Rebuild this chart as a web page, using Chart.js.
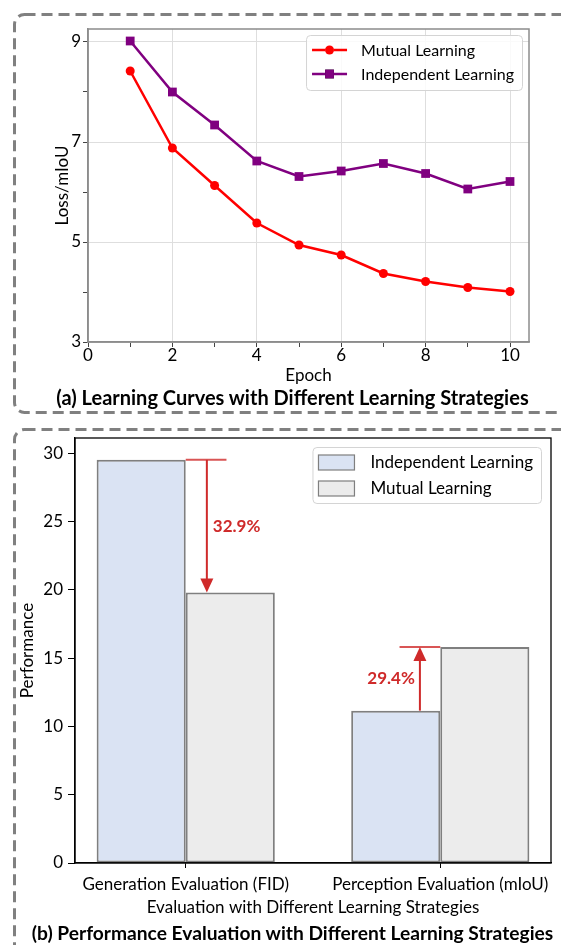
<!DOCTYPE html>
<html>
<head>
<meta charset="utf-8">
<script src="https://cdn.jsdelivr.net/npm/chart.js@4.4.1/dist/chart.umd.min.js"></script>
<style>
    body { margin: 0; background: #fff; width: 561px; height: 945px; overflow: hidden; position: relative; font-family: Lato, "Open Sans", sans-serif; }
    .frame { position: absolute; left: 0; top: 0; }
    canvas { position: absolute; left: 0; }
    .caption { position: absolute; left: 0; width: 585px; text-align: center; font-weight: bold; color: #000; line-height: 22px; }
</style>
</head>
<body>
<svg class="frame" width="561" height="945">
    <rect x="14.5" y="14.5" width="600" height="398" rx="10" fill="none" stroke="#808080" stroke-width="3" stroke-dasharray="11 6"/>
    <rect x="14.5" y="429.5" width="600" height="600" rx="10" fill="none" stroke="#808080" stroke-width="3" stroke-dasharray="11 6"/>
</svg>
<canvas id="lossChart" width="561" height="390" style="top:0"></canvas>
<div class="caption" style="top:386px;font-size:20px">(a) Learning Curves with Different Learning Strategies</div>
<canvas id="perfChart" width="561" height="500" style="top:420px"></canvas>
<div class="caption" style="top:922px;font-size:19.2px">(b) Performance Evaluation with Different Learning Strategies</div>

<script>
// learning curves
var epochs = [1, 2, 3, 4, 5, 6, 7, 8, 9, 10];
var mutualLoss = [8.42, 6.88, 6.13, 5.38, 4.94, 4.74, 4.37, 4.21, 4.09, 4.01];
var independentLoss = [9.02, 8.00, 7.34, 6.62, 6.31, 6.42, 6.57, 6.37, 6.06, 6.21];
var epochTicks = [0, 1, 2, 3, 4, 5, 6, 7, 8, 9, 10];
var lossTicks = [3, 4, 5, 6, 7, 8, 9];

// performance bars
var evalCategories = ['Generation Evaluation (FID)', 'Perception Evaluation (mIoU)'];
var independentPerf = [29.5, 11.15];
var mutualPerf = [19.8, 15.8];
var perfTicks = [0, 5, 10, 15, 20, 25, 30];
var gainLabels = ['32.9%', '29.4%'];

var FONT = 'Lato, "Open Sans", sans-serif';
var RED = '#cf2a2a';

Chart.defaults.font.family = FONT;
Chart.defaults.font.size = 16;
Chart.defaults.color = '#000';

function toPoints(xs, ys) {
    return xs.map(function (x, i) { return {x: x, y: ys[i]}; });
}

function setTicks(list) {
    return function (scale) {
        scale.ticks = list.map(function (v) { return {value: v}; });
    };
}

// matplotlib style frame + legend in the upper right corner
function drawLegend(chart, o) {
    var ctx = chart.ctx, area = chart.chartArea;
    ctx.save();
    ctx.font = o.fontSize + 'px ' + FONT;
    var w = 0;
    o.items.forEach(function (it) { w = Math.max(w, ctx.measureText(it.label).width); });
    var boxW = o.textX + w + 8;
    var left = area.right - o.right - boxW;
    var top = area.top + o.top;
    ctx.beginPath();
    ctx.roundRect(left + 0.5, top + 0.5, boxW, o.height, 4);
    ctx.fillStyle = 'rgba(255,255,255,0.85)';
    ctx.fill();
    ctx.strokeStyle = '#d4d4d4';
    ctx.lineWidth = 1;
    ctx.stroke();
    o.items.forEach(function (it, i) {
        var cy = top + o.rowY[i];
        if (it.kind === 'line') {
            ctx.strokeStyle = it.color;
            ctx.lineWidth = 2.5;
            ctx.beginPath();
            ctx.moveTo(left + 6, cy);
            ctx.lineTo(left + 41, cy);
            ctx.stroke();
            Chart.helpers.drawPoint(ctx, {pointStyle: it.pointStyle, radius: it.radius, borderWidth: 0}, left + 23.5, cy);
            ctx.fillStyle = it.color;
            ctx.fill();
        } else {
            ctx.fillStyle = it.fill;
            ctx.fillRect(left + 6, cy - 7, 36, 15);
            ctx.strokeStyle = '#7f7f7f';
            ctx.lineWidth = 1.2;
            ctx.strokeRect(left + 6, cy - 7, 36, 15);
        }
        ctx.fillStyle = '#000';
        ctx.textBaseline = 'middle';
        ctx.fillText(it.label, left + o.textX, cy + 1);
    });
    ctx.restore();
}

var framePlugin = {
    id: 'frame',
    afterDatasetsDraw: function (chart, args, opts) {
        var a = chart.chartArea, ctx = chart.ctx;
        ctx.save();
        ctx.strokeStyle = opts.color;
        ctx.lineWidth = opts.width;
        ctx.strokeRect(a.left, a.top, a.right - a.left, a.bottom - a.top);
        ctx.restore();
        if (opts.legend) drawLegend(chart, opts.legend);
    }
};

// red gain arrows between the two bars of each group
var gainPlugin = {
    id: 'gain',
    afterDatasetsDraw: function (chart, args, opts) {
        if (!opts.arrows) return;
        var ctx = chart.ctx, xs = chart.scales.x, ys = chart.scales.y;
        ctx.save();
        opts.arrows.forEach(function (a, i) {
            var from = independentPerf[i], to = mutualPerf[i];
            var yTop = ys.getPixelForValue(Math.max(from, to));
            var y0 = ys.getPixelForValue(from), y1 = ys.getPixelForValue(to);
            var ax = xs.getPixelForValue(i + a.arrowX);
            ctx.strokeStyle = 'rgba(207,42,42,0.8)';
            ctx.lineWidth = 2;
            ctx.beginPath();
            ctx.moveTo(xs.getPixelForValue(i + a.lineFrom), yTop);
            ctx.lineTo(xs.getPixelForValue(i + a.lineTo), yTop);
            ctx.stroke();
            var dir = y1 > y0 ? 1 : -1;
            ctx.strokeStyle = RED;
            ctx.beginPath();
            ctx.moveTo(ax, y0);
            ctx.lineTo(ax, y1 - dir * 12);
            ctx.stroke();
            ctx.fillStyle = RED;
            ctx.beginPath();
            ctx.moveTo(ax, y1);
            ctx.lineTo(ax - 6.5, y1 - dir * 14);
            ctx.lineTo(ax + 6.5, y1 - dir * 14);
            ctx.closePath();
            ctx.fill();
            ctx.font = 'bold 17px ' + FONT;
            ctx.textBaseline = 'middle';
            ctx.textAlign = a.side === 'right' ? 'left' : 'right';
            var tx = a.side === 'right' ? ax + 6 : ax - 5;
            ctx.fillText(gainLabels[i], tx, ys.getPixelForValue((from + to) / 2) + a.textDy);
        });
        ctx.restore();
    }
};

new Chart(document.getElementById('lossChart'), {
    type: 'line',
    data: {
        datasets: [
            {
                label: 'Mutual Learning',
                data: toPoints(epochs, mutualLoss),
                borderColor: '#ff0000',
                backgroundColor: '#ff0000',
                borderWidth: 2.5,
                pointStyle: 'circle',
                pointRadius: 4.5,
                pointBorderWidth: 0
            },
            {
                label: 'Independent Learning',
                data: toPoints(epochs, independentLoss),
                borderColor: '#800080',
                backgroundColor: '#800080',
                borderWidth: 2.5,
                pointStyle: 'rect',
                pointRadius: 6.2,
                pointBorderWidth: 0
            }
        ]
    },
    options: {
        responsive: false,
        animation: false,
        devicePixelRatio: 1,
        layout: {padding: {left: 0, right: 32, top: 29, bottom: 0}},
        plugins: {
            legend: {display: false},
            tooltip: {enabled: false},
            frame: {
                color: '#8c8c8c',
                width: 1.5,
                legend: {
                    right: 7, top: 6, height: 55, textX: 55, rowY: [15, 39], fontSize: 16,
                    items: [
                        {kind: 'line', label: 'Mutual Learning', color: '#ff0000', pointStyle: 'circle', radius: 4.5},
                        {kind: 'line', label: 'Independent Learning', color: '#800080', pointStyle: 'rect', radius: 6.2}
                    ]
                }
            }
        },
        scales: {
            x: {
                type: 'linear',
                min: 0,
                max: 10.45,
                afterBuildTicks: setTicks(epochTicks),
                afterFit: function (s) { s.height = 48; },
                ticks: {
                    autoSkip: false, maxRotation: 0, padding: -2, font: {size: 17},
                    callback: function (v) { return v % 2 === 0 ? String(v) : ''; }
                },
                grid: {
                    color: function (c) { return c.tick && c.tick.value % 2 === 0 ? '#dedede' : 'rgba(0,0,0,0)'; },
                    tickColor: '#444',
                    tickLength: 5
                },
                border: {color: '#8c8c8c', width: 1.5},
                title: {display: true, text: 'Epoch', font: {size: 17}, padding: {top: 0, bottom: 4}}
            },
            y: {
                min: 3,
                max: 9.26,
                afterBuildTicks: setTicks(lossTicks),
                afterFit: function (s) { s.width = 88; },
                ticks: {
                    padding: 2, font: {size: 17},
                    callback: function (v) { return v % 2 === 1 ? String(v) : ''; }
                },
                grid: {
                    color: function (c) { return c.tick && c.tick.value % 2 === 1 ? '#dedede' : 'rgba(0,0,0,0)'; },
                    tickColor: '#444',
                    tickLength: 5
                },
                border: {color: '#8c8c8c', width: 1.5},
                title: {display: true, text: 'Loss/mIoU', font: {size: 17}, padding: {top: 52, bottom: 0}}
            }
        }
    },
    plugins: [framePlugin]
});

new Chart(document.getElementById('perfChart'), {
    type: 'bar',
    data: {
        datasets: [
            {
                label: 'Independent Learning',
                data: toPoints([0, 1], independentPerf),
                backgroundColor: '#dae3f3',
                borderColor: '#7f7f7f',
                borderWidth: 2,
                borderSkipped: false,
                categoryPercentage: 0.7,
                barPercentage: 1
            },
            {
                label: 'Mutual Learning',
                data: toPoints([0, 1], mutualPerf),
                backgroundColor: '#ececec',
                borderColor: '#7f7f7f',
                borderWidth: 2,
                borderSkipped: false,
                categoryPercentage: 0.7,
                barPercentage: 1
            }
        ]
    },
    options: {
        responsive: false,
        animation: false,
        devicePixelRatio: 1,
        layout: {padding: {left: 0, right: 10, top: 18, bottom: 0}},
        plugins: {
            legend: {display: false},
            tooltip: {enabled: false},
            frame: {
                color: '#000',
                width: 1.3,
                legend: {
                    right: 10, top: 9, height: 56, textX: 58, rowY: [15, 41], fontSize: 17,
                    items: [
                        {kind: 'patch', label: 'Independent Learning', fill: '#dae3f3'},
                        {kind: 'patch', label: 'Mutual Learning', fill: '#ececec'}
                    ]
                }
            },
            gain: {
                arrows: [
                    {arrowX: 0.083, lineFrom: 0, lineTo: 0.16, side: 'right', textDy: 0},
                    {arrowX: -0.08, lineFrom: -0.16, lineTo: 0, side: 'left', textDy: 0}
                ]
            }
        },
        scales: {
            x: {
                type: 'linear',
                min: -0.435,
                max: 1.435,
                offset: false,
                afterBuildTicks: setTicks([0, 1]),
                afterFit: function (s) { s.height = 57; },
                ticks: {
                    autoSkip: false, maxRotation: 0, padding: 6, font: {size: 17},
                    callback: function (v) { return evalCategories[v]; }
                },
                grid: {offset: false, drawOnChartArea: false, tickColor: '#000', tickLength: 5},
                border: {color: '#000', width: 1.3},
                title: {display: true, text: 'Evaluation with Different Learning Strategies', font: {size: 17}, padding: {top: 0, bottom: 2}}
            },
            y: {
                min: 0,
                max: 31.1,
                afterBuildTicks: setTicks(perfTicks),
                afterFit: function (s) { s.width = 75; },
                ticks: {padding: 5, font: {size: 17}},
                grid: {drawOnChartArea: false, tickColor: '#000', tickLength: 7},
                border: {color: '#000', width: 1.3},
                title: {display: true, text: 'Performance', font: {size: 17}, padding: {top: 17, bottom: 0}}
            }
        }
    },
    plugins: [framePlugin, gainPlugin]
});
</script>
</body>
</html>
